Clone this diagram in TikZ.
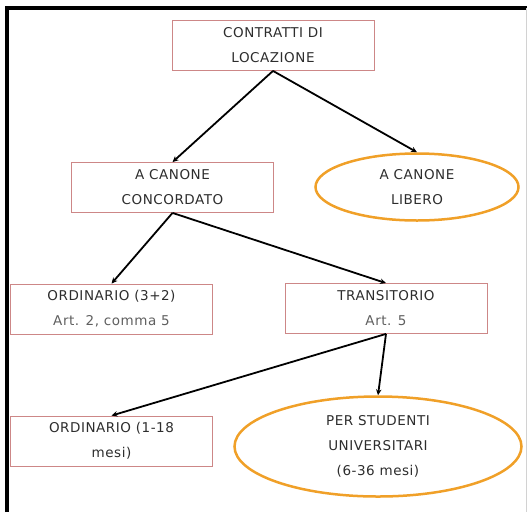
\documentclass[tikz,border=0pt]{standalone}
\usepackage{fontspec}
\setmainfont{DejaVu Sans}
\newfontfamily\boxfont[LetterSpace=4]{DejaVu Sans}
\usetikzlibrary{shapes.geometric,arrows.meta}
\definecolor{boxred}{RGB}{205,135,135}
\definecolor{ellorange}{RGB}{240,160,40}
\definecolor{txtdark}{RGB}{45,45,45}
\definecolor{txtlight}{RGB}{95,95,95}
\tikzset{
  kbox/.style={draw=boxred,line width=.8pt,minimum width=202pt,minimum height=50pt,
    inner sep=0pt,align=center,text=txtdark,font=\boxfont\fontsize{13.5}{25}\selectfont},
  kell/.style={kbox,ellipse,draw=ellorange,line width=2.5pt},
  kline/.style={line width=1.8pt,-{Stealth[length=6pt,width=5.5pt]}},
  lite/.style={text=txtlight}
}
\begin{document}
\begin{tikzpicture}[x=1pt,y=-1pt]
  \useasboundingbox (0,0) rectangle (527,512);
  \draw[line width=4pt] (7,512)--(7,8)--(527,8);
  \draw[gray!35,line width=.8pt] (526.5,8)--(526.5,512);
  \node[kbox] (cdl) at (273,45.5) {CONTRATTI DI\\LOCAZIONE};
  \node[kbox] (conc) at (172.5,187.5) {A CANONE\\CONCORDATO};
  \node[kell,minimum width=203pt,minimum height=67pt] (lib) at (417,187) {A CANONE\\LIBERO};
  \node[kbox] (ord) at (111.5,309) {ORDINARIO (3+2)\\\textcolor{txtlight}{Art. 2, comma 5}};
  \node[kbox] (trans) at (386,308.5) {TRANSITORIO\\\textcolor{txtlight}{Art. 5}};
  \node[kbox] (ordm) at (111.5,441) {ORDINARIO (1-18\\mesi)};
  \node[kell,minimum width=287pt,minimum height=100pt] (stud) at (378,446.5)
    {PER STUDENTI\\UNIVERSITARI\\(6-36 mesi)};
  \draw[kline] (cdl.south)--(conc.north);
  \draw[kline] (cdl.south)--(lib.north);
  \draw[kline] (conc.south)--(ord.north);
  \draw[kline] (conc.south)--(trans.north);
  \draw[kline] (trans.south)--(ordm.north);
  \draw[kline] (trans.south)--(stud.north);
\end{tikzpicture}
\end{document}
